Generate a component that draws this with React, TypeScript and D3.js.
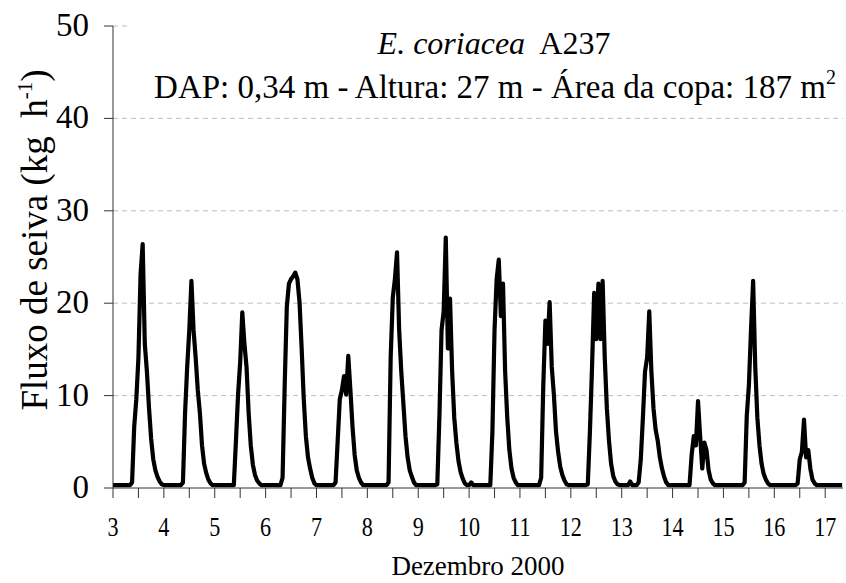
import { useEffect, useRef } from 'react';
import * as d3 from 'd3';

// hourly sap flow (kg h-1), December 2000, one array per day (hour 0..23)
const dec03 = [0.2, 0.2, 0.2, 0.2, 0.2, 0.2, 0.2, 0.2, 0.2, 0.5, 6.5, 9.5, 14, 23, 26.3, 15.5, 12.5, 8.5, 5.2, 3, 1.8, 1.1, 0.6, 0.3];
const dec04 = [0.2, 0.2, 0.2, 0.2, 0.2, 0.2, 0.2, 0.2, 0.2, 0.5, 8, 13, 17, 22.3, 17, 14, 10.5, 8, 4.5, 2.5, 1.5, 0.8, 0.4, 0.2];
const dec05 = [0.2, 0.2, 0.2, 0.2, 0.2, 0.2, 0.2, 0.2, 0.2, 0.2, 5, 10, 13.5, 18.9, 15.5, 13, 8, 4.5, 2.4, 1.3, 0.7, 0.4, 0.2, 0.2];
const dec06 = [0.2, 0.2, 0.2, 0.2, 0.2, 0.2, 0.2, 0.2, 1, 11, 19.5, 22, 22.5, 22.8, 23.2, 22.5, 20, 15, 9.5, 5.5, 3.2, 2, 1, 0.4];
const dec07 = [0.2, 0.2, 0.2, 0.2, 0.2, 0.2, 0.2, 0.2, 0.2, 0.5, 5, 9.5, 10.5, 12, 10, 14.2, 10.5, 6.5, 3.5, 1.8, 1, 0.5, 0.2, 0.2];
const dec08 = [0.2, 0.2, 0.2, 0.2, 0.2, 0.2, 0.2, 0.2, 0.2, 0.2, 0.5, 14, 20.5, 22.5, 25.4, 17, 12.5, 9, 5.5, 3.2, 1.8, 1.1, 0.5, 0.2];
const dec09 = [0.2, 0.2, 0.2, 0.2, 0.2, 0.2, 0.2, 0.2, 0.2, 0.3, 7.7, 17, 19, 27, 15, 20.4, 12.5, 7.5, 4.8, 2.8, 1.6, 0.9, 0.4, 0.2];
const dec10 = [0.2, 0.5, 0.2, 0.2, 0.2, 0.2, 0.2, 0.2, 0.2, 0.2, 0.2, 6, 17, 22.5, 24.6, 18.5, 22, 12.5, 7.5, 4, 2, 1, 0.5, 0.2];
const dec11 = [0.2, 0.2, 0.2, 0.2, 0.2, 0.2, 0.2, 0.2, 0.2, 0.2, 1, 11, 18, 15.5, 20, 13, 10, 6, 3.8, 2.2, 1.3, 0.7, 0.3, 0.2];
const dec12 = [0.2, 0.2, 0.2, 0.2, 0.2, 0.2, 0.2, 0.2, 0.3, 6, 13, 21, 16, 22, 16, 22.3, 14, 8.5, 5, 2.5, 1.2, 0.6, 0.3, 0.2];
const dec13 = [0.2, 0.2, 0.2, 0.2, 0.6, 0.2, 0.2, 0.2, 0.5, 3, 7.5, 12.5, 14, 19, 12.5, 8.5, 6.2, 5, 3.2, 2, 1.1, 0.5, 0.2, 0.2];
const dec14 = [0.2, 0.2, 0.2, 0.2, 0.2, 0.2, 0.2, 0.2, 0.2, 3.5, 5.5, 4.5, 9.3, 5.5, 2, 4.8, 4, 1.8, 0.8, 0.4, 0.2, 0.2, 0.2, 0.2];
const dec15 = [0.2, 0.2, 0.2, 0.2, 0.2, 0.2, 0.2, 0.2, 0.2, 0.2, 0.5, 7.7, 11, 17, 22.3, 13, 7.5, 4.5, 2.5, 1.4, 0.8, 0.4, 0.2, 0.2];
const dec16 = [0.2, 0.2, 0.2, 0.2, 0.2, 0.2, 0.2, 0.2, 0.2, 0.2, 0.2, 0.4, 3, 3.8, 7.3, 3.2, 4, 2, 0.8, 0.4, 0.2, 0.2, 0.2, 0.2];
const dec17 = [0.2, 0.2, 0.2, 0.2, 0.2, 0.2, 0.2, 0.2, 0.2];

const days = [3, 4, 5, 6, 7, 8, 9, 10, 11, 12, 13, 14, 15, 16, 17];
const hourly = [dec03, dec04, dec05, dec06, dec07, dec08, dec09, dec10, dec11, dec12, dec13, dec14, dec15, dec16, dec17];
const yTicks = [0, 10, 20, 30, 40, 50];

const title1Italic = 'E. coriacea';
const title1Rest = 'A237';
const title2 = 'DAP: 0,34 m - Altura: 27 m - Área da copa: 187 m';
const xTitle = 'Dezembro 2000';

export default function App() {
  const svgRef = useRef<SVGSVGElement>(null);
  const width = 846;
  const height = 583;

  useEffect(() => {
    const svg = d3.select(svgRef.current);
    svg.selectAll('*').remove();

    const font = "'Liberation Serif', 'Times New Roman', Times, serif";

    const x = d3.scaleLinear().domain([3, 17.35]).range([113, 843]);
    const y = d3.scaleLinear().domain([0, 50]).range([488, 26]);

    const points: Array<[number, number]> = [];
    hourly.forEach((vals, i) => {
      vals.forEach((v, h) => points.push([days[i] + h / 24, v]));
    });

    svg.append('rect').attr('width', width).attr('height', height).attr('fill', 'white');

    // gridlines
    svg.append('g')
      .selectAll('line')
      .data(yTicks.filter(d => d > 0))
      .enter().append('line')
      .attr('x1', x(3))
      .attr('x2', x(17.35))
      .attr('y1', d => y(d))
      .attr('y2', d => y(d))
      .attr('stroke', '#bdbdbd')
      .attr('stroke-width', 1)
      .attr('stroke-dasharray', '5,4');

    // title box (white fill hides the top gridline)
    svg.append('rect')
      .attr('x', 128)
      .attr('y', 18)
      .attr('width', width - 128)
      .attr('height', 90)
      .attr('fill', 'white');

    const t1 = svg.append('text')
      .attr('x', 494)
      .attr('y', 54)
      .attr('text-anchor', 'middle')
      .attr('font-family', font)
      .attr('font-size', 32)
      .attr('fill', '#000');
    t1.append('tspan').attr('font-style', 'italic').text(title1Italic);
    t1.append('tspan').text('\u00a0 ' + title1Rest);

    const t2 = svg.append('text')
      .attr('x', 495)
      .attr('y', 98)
      .attr('text-anchor', 'middle')
      .attr('font-family', font)
      .attr('font-size', 33)
      .attr('fill', '#000');
    t2.append('tspan').text(title2);
    t2.append('tspan').attr('dy', -14).attr('font-size', 20).text('2');

    // sap flow line
    const line = d3.line<[number, number]>()
      .x(d => x(d[0]))
      .y(d => y(d[1]) - 1);

    svg.append('path')
      .datum(points)
      .attr('d', line)
      .attr('fill', 'none')
      .attr('stroke', '#000')
      .attr('stroke-width', 4.2)
      .attr('stroke-linejoin', 'round');

    // y axis
    const yAxis = svg.append('g');
    yAxis.append('line')
      .attr('x1', x(3)).attr('x2', x(3))
      .attr('y1', y(0)).attr('y2', y(50))
      .attr('stroke', '#333');
    yAxis.selectAll('.yt')
      .data(yTicks)
      .enter().append('line')
      .attr('x1', x(3) - 9).attr('x2', x(3))
      .attr('y1', d => y(d)).attr('y2', d => y(d))
      .attr('stroke', '#333');
    yAxis.selectAll('.yl')
      .data(yTicks)
      .enter().append('text')
      .attr('x', 89)
      .attr('y', d => y(d) + 10)
      .attr('text-anchor', 'end')
      .attr('font-family', font)
      .attr('font-size', 33)
      .text(d => d);

    // x axis
    const xAxis = svg.append('g');
    xAxis.append('line')
      .attr('x1', x(3)).attr('x2', x(17.35))
      .attr('y1', y(0)).attr('y2', y(0))
      .attr('stroke', '#333');
    xAxis.selectAll('.xt')
      .data(d3.range(3, 17.01, 0.5))
      .enter().append('line')
      .attr('x1', d => x(d)).attr('x2', d => x(d))
      .attr('y1', y(0)).attr('y2', y(0) + 10)
      .attr('stroke', '#333');
    xAxis.selectAll('.xl')
      .data(days)
      .enter().append('text')
      .attr('transform', d => `translate(${x(d)}, 536) scale(0.82, 1)`)
      .attr('text-anchor', 'middle')
      .attr('font-family', font)
      .attr('font-size', 27)
      .text(d => d);

    svg.append('text')
      .attr('x', 478)
      .attr('y', 575)
      .attr('text-anchor', 'middle')
      .attr('font-family', font)
      .attr('font-size', 27)
      .text(xTitle);

    // y title
    const yt = svg.append('text')
      .attr('transform', 'translate(47, 240) rotate(-90)')
      .attr('text-anchor', 'middle')
      .attr('font-family', font)
      .attr('font-size', 37);
    yt.append('tspan').text('Fluxo de seiva (kg\u00a0 h');
    yt.append('tspan').attr('dy', -15).attr('font-size', 21).text('-1');
    yt.append('tspan').attr('dy', 15).text(')');
  }, []);

  return (
    <svg
      ref={svgRef}
      width={width}
      height={height}
      style={{ position: 'absolute', left: 0, top: 0 }}
    />
  );
}
